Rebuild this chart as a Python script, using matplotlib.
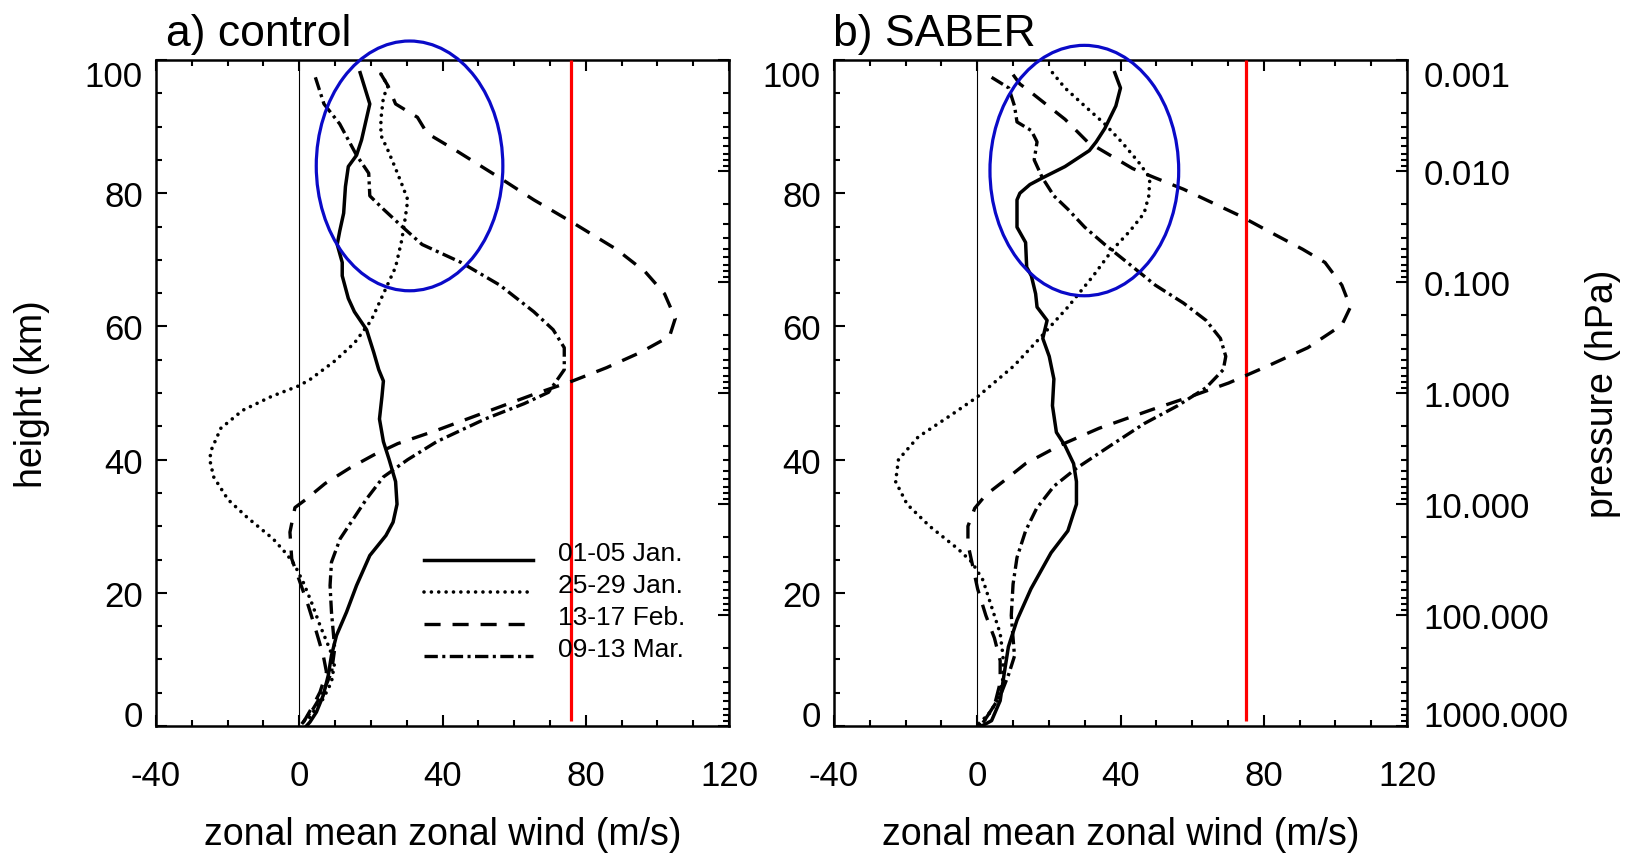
import numpy as np
import matplotlib
matplotlib.use("Agg")
import matplotlib.pyplot as plt
from matplotlib.patches import Ellipse
from matplotlib.lines import Line2D
from matplotlib.ticker import FixedLocator, MultipleLocator, LogLocator, NullFormatter, FixedFormatter

plt.rcParams['font.family'] = ['Liberation Sans', 'DejaVu Sans']
plt.rcParams['axes.unicode_minus'] = False

# ---------------- data: zonal mean zonal wind profiles (m/s) vs height (km) ----------------
legend_labels = ['01-05 Jan.', '25-29 Jan.', '13-17 Feb.', '09-13 Mar.']

# a) control
ctl_jan01_z = [98.1, 93.4, 88.0, 85.7, 84.0, 81.0, 77.0, 74.3, 72.3, 69.6, 67.6, 64.2, 62.2, 59.5, 56.1,
               53.5, 51.8, 49.5, 46.1, 42.7, 40.0, 36.7, 33.3, 30.6, 28.6, 25.6, 21.1, 17.1, 13.6, 10.6,
               7.6, 4.6, 2.1, 0.6, 0.0]
ctl_jan01_u = [17.0, 19.7, 17.4, 16.0, 13.7, 12.9, 12.4, 11.3, 10.6, 12.0, 12.0, 13.7, 15.4, 18.8, 20.8,
               22.2, 23.5, 23.1, 22.4, 23.5, 25.1, 26.9, 27.3, 26.2, 24.2, 19.7, 16.0, 13.2, 10.4, 9.0,
               8.1, 6.7, 4.8, 3.0, 2.0]

ctl_jan25_z = [97.9, 96.1, 94.4, 91.1, 88.7, 86.4, 83.7, 81.0, 79.0, 76.3, 72.9, 68.9, 64.9, 60.9, 57.5,
               54.8, 52.1, 51.1, 49.5, 47.4, 44.7, 41.4, 40.0, 37.4, 34.0, 31.3, 28.1, 25.8, 24.1, 21.6,
               18.6, 15.1, 12.1, 9.6, 6.6, 4.1, 2.1, 0.6]
ctl_jan25_u = [22.8, 24.8, 23.5, 22.8, 22.8, 24.8, 26.9, 28.9, 30.3, 29.6, 28.6, 26.9, 23.5, 20.1, 15.4,
               9.9, 3.2, 0.0, -7.7, -15.8, -21.9, -24.6, -25.0, -23.9, -19.9, -14.5, -7.3, -3.5, -1.2, 1.1,
               3.4, 5.8, 8.1, 9.9, 9.0, 6.7, 3.9, 2.0]

ctl_feb13_z = [97.9, 96.1, 93.4, 91.4, 89.0, 86.4, 82.3, 79.0, 75.6, 71.6, 68.2, 64.9, 61.2, 58.5, 56.1,
               53.8, 51.8, 49.8, 47.1, 44.4, 42.4, 40.7, 38.7, 36.4, 34.0, 32.8, 29.1, 25.1, 21.6, 18.1,
               14.1, 10.6, 8.1, 5.1, 3.1, 0.5]
ctl_feb13_u = [22.8, 24.8, 26.9, 33.0, 35.7, 43.8, 56.0, 65.5, 76.3, 88.5, 96.6, 102.0, 105.0, 103.4, 95.3,
               85.8, 76.3, 65.5, 51.9, 38.4, 27.5, 20.8, 14.0, 7.2, 1.8, -1.2, -2.6, -2.1, 0.2, 2.5,
               4.8, 6.7, 7.6, 5.8, 3.9, 1.1]

ctl_mar09_z = [97.4, 93.4, 90.4, 85.7, 83.0, 79.6, 77.6, 74.9, 72.3, 69.6, 66.2, 62.2, 59.5, 56.8, 53.5,
               50.1, 48.4, 46.1, 42.7, 40.0, 37.4, 34.1, 31.1, 28.1, 24.6, 21.1, 17.1, 14.1, 11.6, 8.1,
               5.1, 2.6, 0.3]
ctl_mar09_u = [4.5, 6.9, 11.3, 16.0, 19.4, 19.7, 23.5, 28.9, 34.3, 45.2, 56.0, 65.5, 70.9, 74.0, 74.0,
               69.6, 62.8, 51.9, 38.4, 30.3, 23.5, 18.8, 15.1, 11.4, 9.0, 8.6, 9.0, 9.5, 9.9, 9.0,
               6.7, 3.9, 0.7]

# b) SABER
sab_jan01_z = [98.1, 95.8, 93.1, 89.7, 87.7, 86.4, 84.0, 82.3, 81.3, 80.0, 79.0, 74.9, 72.6, 68.9, 67.6,
               64.9, 62.9, 60.9, 58.2, 55.5, 52.1, 48.1, 44.1, 42.1, 39.4, 36.7, 33.3, 29.3, 26.0, 20.6,
               15.9, 11.9, 7.8, 3.8, 0.8, 0.1]
sab_jan01_u = [38.4, 40.0, 38.7, 35.6, 33.2, 31.3, 24.5, 18.2, 14.7, 11.9, 11.1, 11.1, 13.5, 13.8, 15.1,
               16.3, 16.7, 19.5, 18.3, 20.1, 21.4, 21.0, 22.1, 24.5, 26.9, 27.7, 27.7, 25.3, 20.6, 15.0,
               11.1, 8.7, 7.5, 6.4, 4.0, 1.6]

sab_jan25_z = [98.1, 95.8, 93.1, 90.4, 87.7, 84.7, 82.3, 79.6, 77.0, 74.3, 71.6, 67.6, 62.9, 58.2, 54.1,
               49.4, 46.8, 43.4, 40.0, 36.7, 33.3, 30.0, 26.6, 24.6, 21.9, 17.9, 13.9, 10.5, 7.2, 3.8,
               1.1, 0.1]
sab_jan25_u = [21.0, 24.5, 30.0, 35.6, 40.3, 45.0, 48.2, 47.9, 46.6, 42.6, 37.9, 32.4, 25.3, 17.4, 10.3,
               0.0, -7.0, -16.5, -22.0, -22.8, -19.6, -13.3, -5.4, -1.5, 1.6, 4.0, 6.4, 7.2, 7.2, 5.6,
               2.4, 0.8]

sab_feb13_z = [97.8, 96.4, 95.1, 93.1, 91.1, 87.7, 85.7, 83.7, 82.3, 80.6, 78.6, 76.6, 74.3, 71.6, 69.6,
               66.2, 62.9, 60.2, 56.8, 54.1, 51.5, 49.4, 47.4, 44.7, 42.1, 39.4, 36.7, 34.7, 32.7, 30.0,
               27.3, 24.6, 20.6, 16.6, 13.2, 9.8, 6.5, 3.1, 0.5]
sab_feb13_u = [10.0, 11.9, 15.1, 19.8, 24.5, 30.8, 37.1, 43.4, 49.7, 57.6, 65.5, 73.4, 81.3, 90.8, 97.1,
               101.8, 104.2, 101.8, 92.3, 81.3, 70.2, 59.2, 48.2, 34.0, 22.9, 13.5, 7.2, 2.4, -0.7, -2.6,
               -2.6, -1.5, 0.1, 2.4, 4.8, 6.4, 6.4, 4.8, 1.6]

sab_mar09_z = [97.4, 95.8, 93.1, 90.7, 89.4, 87.7, 85.0, 82.3, 79.6, 77.6, 74.9, 72.3, 69.6, 66.2, 63.5,
               60.9, 58.2, 55.5, 53.5, 50.8, 48.1, 45.4, 42.1, 38.7, 36.0, 32.7, 29.3, 25.3, 21.3, 16.6,
               13.2, 10.5, 7.8, 4.5, 1.8, 0.1]
sab_mar09_u = [4.0, 8.8, 10.4, 11.1, 15.1, 16.7, 15.9, 18.2, 21.4, 25.3, 30.0, 35.6, 41.9, 49.7, 57.6,
               63.9, 67.9, 69.4, 68.7, 63.9, 56.0, 46.6, 37.2, 27.7, 21.4, 16.6, 13.5, 11.1, 10.0, 9.5,
               10.0, 10.4, 8.8, 6.4, 3.2, 0.0]

# reference wind speed (red line) and highlighted region (centre u, centre z, width, height)
ref_speed = {'a': 76.0, 'b': 75.0}
highlight = {'a': (30.8, 84.1, 52.1, 37.5), 'b': (29.9, 83.4, 52.7, 37.6)}

pressure_ticks = [1000.0, 100.0, 10.0, 1.0, 0.1, 0.01, 0.001]
pressure_labels = ['%.3f' % p for p in pressure_ticks]
height_ticks = [0, 20, 40, 60, 80, 100]
wind_ticks = [-40, 0, 40, 80, 120]

# ---------------- styles ----------------
styles = [
    dict(color='black', lw=2.5, linestyle='-'),
    dict(color='black', lw=2.6, linestyle=(0, (0.01, 2.03)), dash_capstyle='round'),
    dict(color='black', lw=2.4, linestyle=(0, (4.83, 3.58))),
    dict(color='black', lw=2.4, linestyle=(0, (4.0, 1.33, 0.92, 1.33))),
]
BLUE = '#0a0ac8'

W, H = 1643, 854
fig = plt.figure(figsize=(W / 100, H / 100), dpi=100)


def px_axes(left, top, right, bottom):
    return [left / W, 1 - bottom / H, (right - left) / W, (bottom - top) / H]


ax_a = fig.add_axes(px_axes(156, 61, 729, 727))
ax_b = fig.add_axes(px_axes(834, 61, 1407, 727))

TICK_FS = 25


def setup_panel(ax, key, profiles, pressure_text):
    ax.set_xlim(-40, 120)
    ax.set_ylim(0, 100)
    ax.xaxis.set_major_locator(FixedLocator(wind_ticks))
    ax.xaxis.set_minor_locator(MultipleLocator(10))
    ax.yaxis.set_major_locator(FixedLocator(height_ticks))
    ax.yaxis.set_minor_locator(MultipleLocator(5))
    ax.tick_params(which='both', direction='in', top=True, bottom=True, left=True, right=False,
                   width=1.5, labelsize=TICK_FS)
    ax.tick_params(which='major', length=8)
    ax.tick_params(which='minor', length=4.5)
    ax.tick_params(axis='x', pad=24)
    ax.tick_params(axis='y', pad=9.5)
    for s in ax.spines.values():
        s.set_linewidth(1.8)

    yt = ax.yaxis.get_major_ticks()
    yt[0].label1.set_va('baseline')
    yt[-1].label1.set_va('top')

    # zero wind line
    ax.axvline(0, color='black', lw=0.8, zorder=1)
    # reference wind speed
    ax.vlines(ref_speed[key], 0.7, 100, color='red', lw=2.3, zorder=3)

    for (u, z), st in zip(profiles, styles):
        ax.plot(u, z, zorder=4, **st)

    cx, cy, w, h = highlight[key]
    ax.add_patch(Ellipse((cx, cy), w, h, fill=False, ec=BLUE, lw=2.3, clip_on=False, zorder=6))

    # pressure axis on the right spine
    tw = ax.twinx()
    tw.set_yscale('log')
    tw.set_ylim(1000, 0.001)
    tw.yaxis.set_major_locator(FixedLocator(pressure_ticks))
    tw.yaxis.set_minor_locator(LogLocator(base=10, subs=np.arange(2, 10), numticks=30))
    tw.yaxis.set_minor_formatter(NullFormatter())
    tw.tick_params(which='both', direction='in', width=1.5, labelsize=TICK_FS, pad=11.7)
    tw.tick_params(which='major', length=8)
    tw.tick_params(which='minor', length=4.5)
    for s in tw.spines.values():
        s.set_visible(False)
    if pressure_text:
        tw.yaxis.set_major_formatter(FixedFormatter(pressure_labels))
        for loc, t in zip(pressure_ticks, tw.yaxis.get_major_ticks()):
            if loc == max(pressure_ticks):
                t.label2.set_va('baseline')
            elif loc == min(pressure_ticks):
                t.label2.set_va('top')
    else:
        tw.yaxis.set_major_formatter(NullFormatter())
    return tw


profiles_a = [(ctl_jan01_u, ctl_jan01_z), (ctl_jan25_u, ctl_jan25_z),
              (ctl_feb13_u, ctl_feb13_z), (ctl_mar09_u, ctl_mar09_z)]
profiles_b = [(sab_jan01_u, sab_jan01_z), (sab_jan25_u, sab_jan25_z),
              (sab_feb13_u, sab_feb13_z), (sab_mar09_u, sab_mar09_z)]

setup_panel(ax_a, 'a', profiles_a, False)
setup_panel(ax_b, 'b', profiles_b, True)

# legend drawn inside panel a
leg_x0, leg_x1, leg_tx = 0.4677, 0.658, 0.702
leg_y0, leg_dy = 0.2497, 0.048
for i, (lab, st) in enumerate(zip(legend_labels, styles)):
    y = leg_y0 - i * leg_dy
    ax_a.add_line(Line2D([leg_x0, leg_x1], [y, y], transform=ax_a.transAxes, zorder=7, **st))
    ax_a.text(leg_tx, y, lab, transform=ax_a.transAxes, fontsize=19, va='baseline', ha='left', zorder=7)

# titles and axis labels
fig.text(166 / W, 1 - 45.7 / H, 'a) control', fontsize=32, va='baseline', ha='left')
fig.text(833 / W, 1 - 45.7 / H, 'b) SABER', fontsize=32, va='baseline', ha='left')

ycen = 1 - 394 / H
fig.text(31.5 / W, ycen, 'height (km)', fontsize=27, rotation=90, ha='center', va='center')
fig.text(1603 / W, ycen, 'pressure (hPa)', fontsize=27, rotation=90, ha='center', va='center')
fig.text(442.5 / W, 1 - 835 / H, 'zonal mean zonal wind (m/s)', fontsize=27, ha='center', va='center')
fig.text(1120.5 / W, 1 - 835 / H, 'zonal mean zonal wind (m/s)', fontsize=27, ha='center', va='center')

fig.savefig('out.png', dpi=100, facecolor='white')
